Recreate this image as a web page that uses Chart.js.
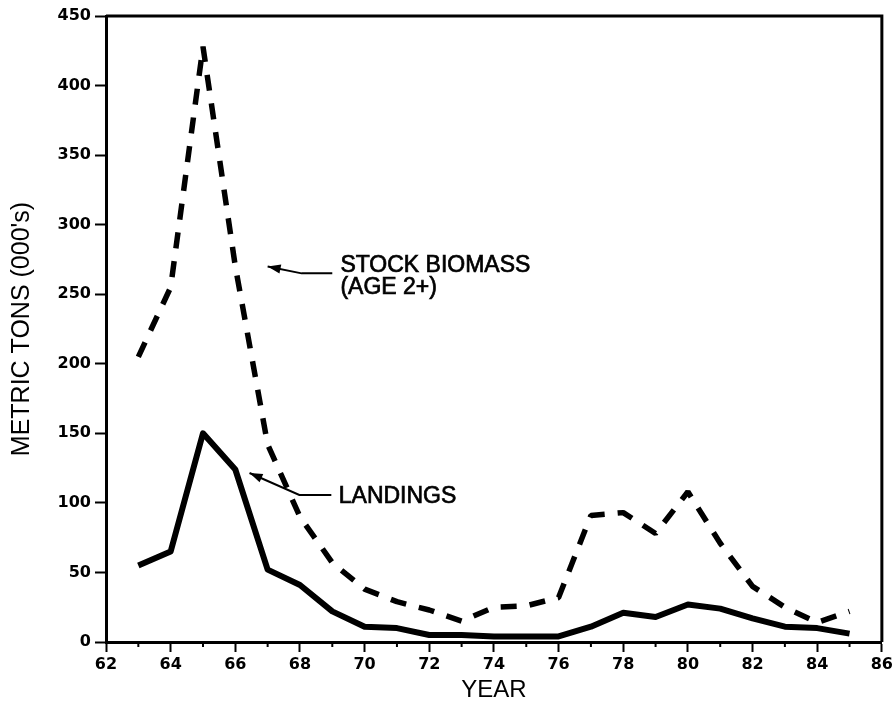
<!DOCTYPE html>
<html>
<head>
<meta charset="utf-8">
<script src="https://cdn.jsdelivr.net/npm/chart.js@4.4.1/dist/chart.umd.min.js"></script>
<style>
    html, body { margin: 0; padding: 0; background: #fff; }
    #wrap { width: 896px; height: 702px; position: relative; }
</style>
</head>
<body>
<div id="wrap"><canvas id="chart"></canvas></div>
<script>
// Chart data (thousands of metric tons)
const years = [63, 64, 65, 66, 67, 68, 69, 70, 71, 72, 73, 74, 75, 76, 77, 78, 79, 80, 81, 82, 83, 84, 85];
const biomass = [205, 255, 428, 270, 142, 90, 57, 38, 29, 23, 15, 25, 26, 32, 91, 93, 78, 108, 71, 40, 25, 14, 22];
const landings = [55, 65, 150, 124, 52, 41, 22, 11, 10, 5, 5, 4, 4, 4, 11, 21, 18, 27, 24, 17, 11, 10, 6];
const minorYears = [63, 65, 67, 69, 71, 73, 75, 77, 79, 81, 83, 85];

// Labels with arrows, placed in data units
const notes = [
    { lines: ['STOCK BIOMASS', '(AGE 2+)'], at: [69.25, 266], arrow: [[69.0, 265], [68.05, 265], [67.0, 270]] },
    { lines: ['LANDINGS'], at: [69.2, 100], arrow: [[68.97, 105.7], [67.98, 105.7], [66.44, 121.5]] }
];

const ink = '#000';
const tickFont = { family: 'DejaVu Sans', size: 16, weight: 'bold' };

function pts(vals) {
    return years.map((y, i) => ({ x: y, y: vals[i] }));
}

// Draws the box, the minor year ticks and the arrow labels
const extras = {
    id: 'extras',
    afterDraw(chart) {
        const ctx = chart.ctx;
        const a = chart.chartArea;
        const xs = chart.scales.x;
        const ys = chart.scales.y;
        ctx.save();
        ctx.strokeStyle = ink;
        ctx.fillStyle = ink;

        // frame top + right
        ctx.lineWidth = 3;
        ctx.beginPath();
        ctx.moveTo(a.left, a.top);
        ctx.lineTo(a.right, a.top);
        ctx.lineTo(a.right, a.bottom);
        ctx.stroke();

        // minor ticks
        ctx.lineWidth = 2;
        minorYears.forEach((yr) => {
            let px = xs.getPixelForValue(yr);
            ctx.beginPath();
            ctx.moveTo(px, a.bottom);
            ctx.lineTo(px, a.bottom + 5);
            ctx.stroke();
        });

        // notes (thin stroke to get the heavier print look)
        ctx.font = '23px "Liberation Sans", Arial, sans-serif';
        ctx.textBaseline = 'alphabetic';
        ctx.textAlign = 'left';
        notes.forEach((n) => {
            let tx = xs.getPixelForValue(n.at[0]);
            let ty = ys.getPixelForValue(n.at[1]);
            ctx.lineWidth = 0.7;
            n.lines.forEach((ln, i) => {
                ctx.fillText(ln, tx, ty + i * 22);
                ctx.strokeText(ln, tx, ty + i * 22);
            });
            let p = n.arrow.map((q) => [xs.getPixelForValue(q[0]), ys.getPixelForValue(q[1])]);
            ctx.lineWidth = 2;
            ctx.beginPath();
            ctx.moveTo(p[0][0], p[0][1]);
            for (let i = 1; i < p.length; i++) ctx.lineTo(p[i][0], p[i][1]);
            ctx.stroke();
            // arrow head
            let tip = p[p.length - 1];
            let prev = p[p.length - 2];
            let ang = Math.atan2(tip[1] - prev[1], tip[0] - prev[0]);
            let len = 13, w = 4.5;
            ctx.beginPath();
            ctx.moveTo(tip[0], tip[1]);
            ctx.lineTo(tip[0] - len * Math.cos(ang) + w * Math.sin(ang), tip[1] - len * Math.sin(ang) - w * Math.cos(ang));
            ctx.lineTo(tip[0] - len * Math.cos(ang) - w * Math.sin(ang), tip[1] - len * Math.sin(ang) + w * Math.cos(ang));
            ctx.closePath();
            ctx.fill();
        });
        ctx.restore();
    }
};

const config = {
    type: 'line',
    data: {
        datasets: [
            {
                label: 'Stock biomass (age 2+)',
                data: pts(biomass),
                borderColor: ink,
                borderWidth: 5.5,
                borderDash: [16, 13],
                borderCapStyle: 'butt',
                borderJoinStyle: 'bevel',
                pointRadius: 0,
                tension: 0,
                fill: false
            },
            {
                label: 'Landings',
                data: pts(landings),
                borderColor: ink,
                borderWidth: 6,
                borderJoinStyle: 'round',
                pointRadius: 0,
                tension: 0,
                fill: false
            }
        ]
    },
    options: {
        responsive: true,
        maintainAspectRatio: false,
        animation: false,
        layout: { padding: { top: 16, right: 12, left: 0, bottom: 0 } },
        plugins: {
            legend: { display: false },
            tooltip: { enabled: false }
        },
        scales: {
            x: {
                type: 'linear',
                min: 62,
                max: 86,
                afterFit: (s) => { s.height = 60; },
                grid: { drawOnChartArea: false, drawTicks: true, tickLength: 10, tickColor: ink, tickWidth: 2 },
                border: { display: true, color: ink, width: 3 },
                ticks: { stepSize: 2, color: ink, font: tickFont, padding: 3, maxRotation: 0 },
                title: {
                    display: true,
                    text: 'YEAR',
                    color: ink,
                    font: { family: 'Liberation Sans', size: 24, lineHeight: 1 },
                    padding: { top: 0, bottom: 0 }
                }
            },
            y: {
                min: 0,
                max: 450,
                afterFit: (s) => { s.width = 106; },
                grid: { drawOnChartArea: false, drawTicks: true, tickLength: 11, tickColor: ink, tickWidth: 2 },
                border: { display: true, color: ink, width: 3 },
                ticks: { stepSize: 50, color: ink, font: tickFont, padding: 4 },
                title: {
                    display: true,
                    text: "METRIC TONS (000's)",
                    color: ink,
                    font: { family: 'Liberation Sans', size: 25, lineHeight: 1 },
                    padding: { top: 10, bottom: 0 }
                }
            }
        }
    },
    plugins: [extras]
};

document.addEventListener('DOMContentLoaded', () => {
    new Chart(document.getElementById('chart'), config);
});
</script>
</body>
</html>
